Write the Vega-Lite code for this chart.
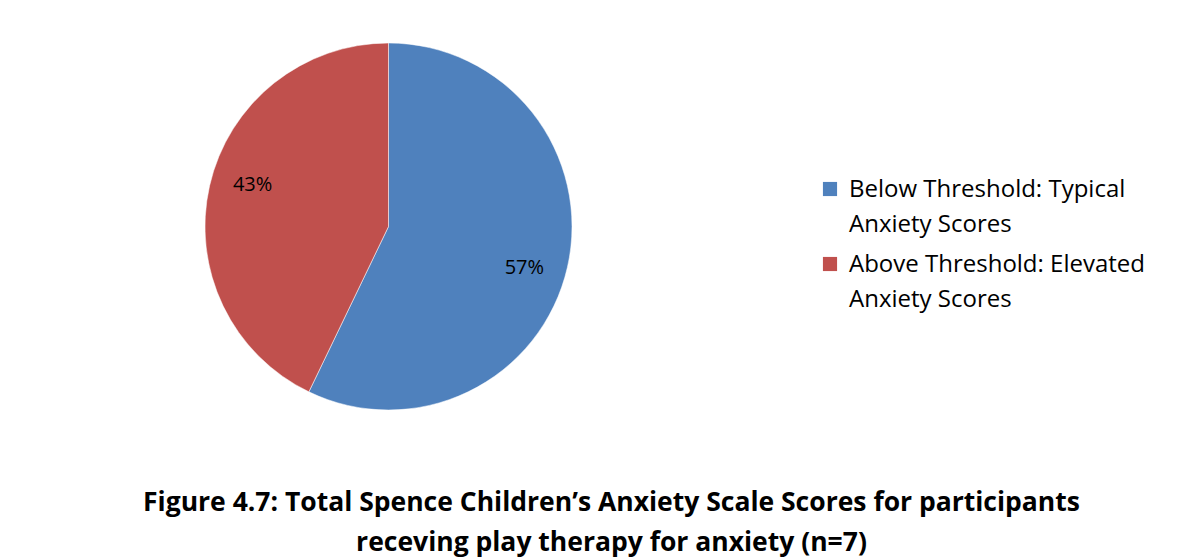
{
  "$schema": "https://vega.github.io/schema/vega-lite/v6.json",
  "width": 367,
  "height": 367,
  "padding": {"left": 205, "top": 43, "right": 628, "bottom": 149},
  "autosize": {"type": "none"},
  "background": "white",
  "config": {"view": {"stroke": null}, "style": {"guide-label": {"lineHeight": 35, "dy": -11}}},
  "title": {
    "text": ["Figure 4.7: Total Spence Children’s Anxiety Scale Scores for participants", "receving play therapy for  anxiety (n=7)"],
    "orient": "bottom",
    "anchor": "middle",
    "frame": "group",
    "dx": 223,
    "offset": 79,
    "font": "Open Sans",
    "fontSize": 26.5,
    "fontWeight": "bold",
    "color": "black",
    "lineHeight": 40
  },
  "data": {
    "values": [
      {"category": "Below Threshold: Typical Anxiety Scores", "count": 4, "label": "57%", "ord": 1},
      {"category": "Above Threshold: Elevated Anxiety Scores", "count": 3, "label": "43%", "ord": 2}
    ]
  },
  "encoding": {
    "theta": {"field": "count", "type": "quantitative", "stack": true},
    "order": {"field": "ord", "type": "quantitative"}
  },
  "layer": [
    {
      "mark": {"type": "arc", "stroke": "white", "strokeWidth": 0.5},
      "encoding": {
        "color": {
          "field": "category",
          "type": "nominal",
          "scale": {
            "domain": ["Below Threshold: Typical Anxiety Scores", "Above Threshold: Elevated Anxiety Scores"],
            "range": ["#4F81BD", "#C0504D"]
          },
          "legend": {
            "title": null,
            "orient": "none",
            "legendX": 613,
            "legendY": 134,
            "symbolType": "square",
            "symbolSize": 200,
            "symbolStrokeWidth": 0,
            "labelFont": "Open Sans",
            "labelFontSize": 24,
            "labelColor": "black",
            "labelLimit": 400,
            "labelOffset": 7,
            "rowPadding": 15,
            "labelExpr": "datum.label == 'Below Threshold: Typical Anxiety Scores' ? ['Below Threshold: Typical', 'Anxiety Scores'] : ['Above Threshold: Elevated', 'Anxiety Scores']",
            "labelBaseline": "top",
            "symbolOffset": 0
          }
        }
      }
    },
    {
      "mark": {"type": "text", "radius": 142, "thetaOffset": 0.07, "font": "Open Sans", "fontSize": 20, "color": "black"},
      "encoding": {"text": {"field": "label"}}
    }
  ]
}
